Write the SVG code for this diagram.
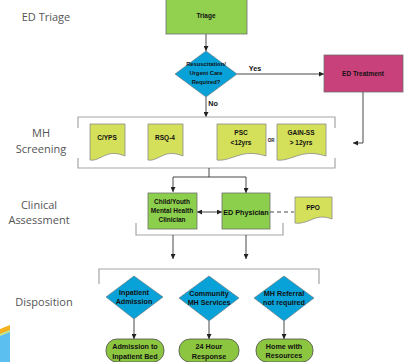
<svg xmlns="http://www.w3.org/2000/svg" width="408" height="362" viewBox="0 0 408 362">
<defs>
<marker id="ah" viewBox="0 0 6 6" refX="6" refY="3" markerWidth="5" markerHeight="5" orient="auto-start-reverse" markerUnits="userSpaceOnUse">
<path d="M0,0 L6,3 L0,6 Z" fill="#222"/>
</marker>
<style>
.lbl{font-family:"Open Sans","Liberation Sans",sans-serif;font-size:11px;fill:#555;text-anchor:middle}
.t{font-family:"Liberation Sans",Arial,sans-serif;font-weight:bold;font-size:6.5px;fill:#111;text-anchor:middle}
.t7{font-family:"Liberation Sans",Arial,sans-serif;font-weight:bold;font-size:7.2px;fill:#111;text-anchor:middle}
.c{fill:none;stroke:#333;stroke-width:0.9}
.br{fill:none;stroke:#a6a6a6;stroke-width:1.2}
.box{stroke:#6f6f6f;stroke-width:0.8}
.green{fill:#92d050}
.cgreen{fill:#8ccf4c}
.dia{fill:#08a2d8;stroke:#6f6f6f;stroke-width:0.6}
.doc{fill:#d4df5a;stroke:#8a8a8a;stroke-width:0.8}
.term{fill:#8cc640;stroke:#4d4d4d;stroke-width:0.8}
</style>
</defs>
<rect width="408" height="362" fill="#fff"/>
<!-- corner decoration -->
<polygon points="0,330 10,326 10,362 0,362" fill="#5bc0ef"/>
<polygon points="0,329 10,325 10,330 0,334" fill="#f5b21c"/>
<polygon points="0,334 10,330 10,332 0,336" fill="#cfe58a"/>
<!-- side labels -->
<g id="lbl-triage"><text class="lbl" x="46" y="21">ED Triage</text></g>
<g id="lbl-mh"><text class="lbl" x="41" y="137">MH</text><text class="lbl" x="41" y="153">Screening</text></g>
<g id="lbl-clin"><text class="lbl" x="39" y="209">Clinical</text><text class="lbl" x="39" y="224">Assessment</text></g>
<g id="lbl-disp"><text class="lbl" x="44" y="306">Disposition</text></g>
<!-- connectors -->
<g id="connectors">
<line class="c" x1="206" y1="34" x2="206" y2="51" marker-end="url(#ah)"/>
<line class="c" x1="237" y1="74" x2="324" y2="74" marker-end="url(#ah)"/>
<text class="t7" x="255" y="71">Yes</text>
<line class="c" x1="206" y1="97" x2="206" y2="117" marker-end="url(#ah)"/>
<text class="t7" x="213" y="106">No</text>
<path class="c" d="M363,92 V143 H353" stroke="#777" marker-end="url(#ah)"/>
<path class="br" d="M78,128 V117 H335 V128"/>
<path class="br" d="M78,158 V168 H335 V158"/>
<path class="c" d="M209,168 V177 H173 V192" marker-end="url(#ah)"/>
<path class="c" d="M209,177 H246 V193" marker-end="url(#ah)"/>
<line class="c" x1="197" y1="212" x2="222" y2="212" marker-start="url(#ah)" marker-end="url(#ah)"/>
<line class="c" x1="270" y1="212" x2="294" y2="212" stroke="#555" stroke-dasharray="4,3"/>
<path class="br" d="M136,223 V235 H283 V223"/>
<line class="c" x1="173" y1="235" x2="173" y2="259" marker-end="url(#ah)"/>
<line class="c" x1="246" y1="235" x2="246" y2="259" marker-end="url(#ah)"/>
<path class="br" d="M99,284 V269 H319 V284"/>
<line class="c" x1="134" y1="319" x2="134" y2="339" marker-end="url(#ah)"/>
<line class="c" x1="209" y1="321" x2="209" y2="339" marker-end="url(#ah)"/>
<line class="c" x1="284" y1="321" x2="284" y2="339" marker-end="url(#ah)"/>
<text class="t" x="271" y="142" style="font-size:4.5px">OR</text>
</g>
<!-- nodes -->
<g id="triage"><rect class="box green" x="166" y="-1" width="81" height="35"/><text class="t" x="206" y="18">Triage</text></g>
<g id="resus"><polygon class="dia" points="206,51 237,74 206,97 175,74"/>
<text class="t" x="206" y="66" style="font-size:5.8px">Resuscitation/</text>
<text class="t" x="206" y="75" style="font-size:5.8px">Urgent Care</text>
<text class="t" x="206" y="84" style="font-size:5.8px">Required?</text></g>
<g id="edtreat"><rect class="box" x="324" y="55" width="79" height="37" fill="#c9417b"/><text class="t" x="363" y="76">ED Treatment</text></g>
<g id="cyps"><path class="doc" d="M90,124 H125 V156 C120,154 113,152 106,155 S95,161 90,160 Z"/><text class="t" x="107" y="140">C/YPS</text></g>
<g id="rsq"><path class="doc" d="M148,124 H183 V156 C178,154 171,152 164,155 S153,161 148,160 Z"/><text class="t" x="165" y="140">RSQ-4</text></g>
<g id="psc"><path class="doc" d="M217,124 H266 V156 C259,154 250,152 240,155 S224,161 217,160 Z"/><text class="t" x="241" y="135">PSC</text><text class="t" x="241" y="145">&lt;12yrs</text></g>
<g id="gain"><path class="doc" d="M277,124 H326 V156 C319,154 310,152 300,155 S284,161 277,160 Z"/><text class="t" x="301" y="135">GAIN-SS</text><text class="t" x="301" y="145">&gt; 12yrs</text></g>
<g id="cymh"><rect class="box cgreen" x="148" y="193" width="49" height="36"/>
<text class="t" x="172" y="204">Child/Youth</text><text class="t" x="172" y="213">Mental Health</text><text class="t" x="172" y="222">Clinician</text></g>
<g id="edphys"><rect class="box cgreen" x="222" y="193" width="48" height="36"/><text class="t7" x="246" y="215">ED Physician</text></g>
<g id="ppo"><path class="doc" d="M295,197 H332 V219 C327,217 320,216 313,219 S300,224 295,223 Z"/><text class="t" x="313" y="210">PPO</text></g>
<g id="inpat"><polygon class="dia" points="134,276 163,297 134,319 106,297"/>
<text class="t7" x="134" y="295">Inpatient</text><text class="t7" x="134" y="304">Admission</text></g>
<g id="comm"><polygon class="dia" points="209,276 239,298 209,321 179,298"/>
<text class="t7" x="209" y="296">Community</text><text class="t7" x="209" y="305">MH Services</text></g>
<g id="noref"><polygon class="dia" points="284,276 314,298 284,321 254,298"/>
<text class="t7" x="284" y="296">MH Referral</text><text class="t7" x="284" y="305">not required</text></g>
<g id="bed"><rect class="term" x="106" y="339" width="58" height="23" rx="11"/>
<text class="t7" x="135" y="349">Admission to</text><text class="t7" x="135" y="358.5">Inpatient Bed</text></g>
<g id="resp"><rect class="term" x="179" y="339" width="60" height="23" rx="11"/>
<text class="t7" x="209" y="349">24 Hour</text><text class="t7" x="209" y="358.5">Response</text></g>
<g id="home"><rect class="term" x="256" y="339" width="57" height="23" rx="11"/>
<text class="t7" x="284" y="348.5">Home with</text><text class="t7" x="284" y="358">Resources</text></g>
</svg>
